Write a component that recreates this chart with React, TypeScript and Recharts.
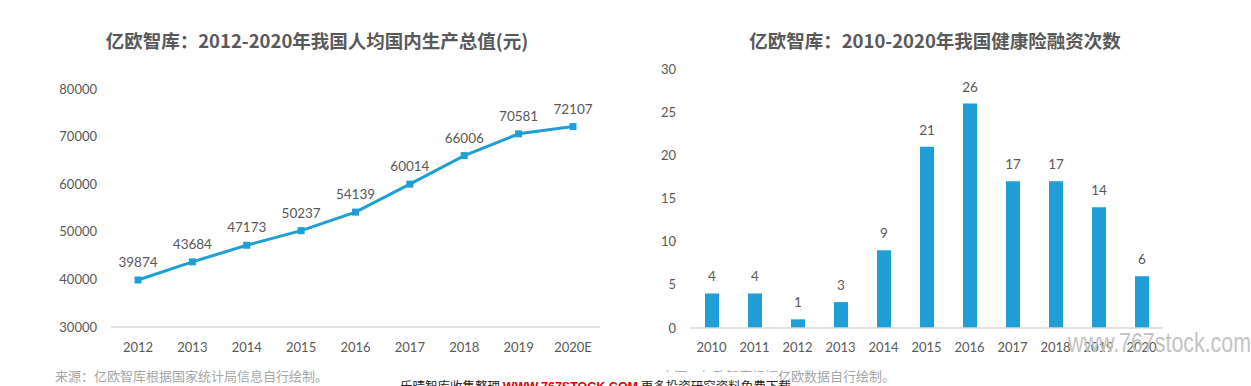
import React from "react";
import {
  LineChart,
  Line,
  BarChart,
  Bar,
  XAxis,
  YAxis,
  LabelList,
} from "recharts";

// 人均GDP (元)
const gdpYears = ["2012", "2013", "2014", "2015", "2016", "2017", "2018", "2019", "2020E"];
const gdpValues = [39874, 43684, 47173, 50237, 54139, 60014, 66006, 70581, 72107];
const gdpTicks = [30000, 40000, 50000, 60000, 70000, 80000];

// 健康险融资次数
const fundYears = ["2010", "2011", "2012", "2013", "2014", "2015", "2016", "2017", "2018", "2019", "2020"];
const fundCounts = [4, 4, 1, 3, 9, 21, 26, 17, 17, 14, 6];
const fundTicks = [0, 5, 10, 15, 20, 25, 30];

const BLUE = "#1f9fd6";
const TEXT = "#595959";
const AXIS = "#d9d9d9";
const NUM_FONT = "Lato, 'Noto Sans CJK SC', sans-serif";
const CJK_FONT = "'Noto Sans CJK SC', sans-serif";

const gdpData = gdpYears.map((year, i) => ({ year, value: gdpValues[i] }));
const fundData = fundYears.map((year, i) => ({ year, count: fundCounts[i] }));

const tickStyle = { fill: TEXT, fontSize: 13, fontFamily: NUM_FONT };

const SquareDot = (props: any) => {
  const { cx, cy, index } = props;
  if (cx == null || cy == null) return <g key={index} />;
  return <rect key={index} x={cx - 3.5} y={cy - 3.5} width={7} height={7} fill={BLUE} />;
};

const Title = ({ text, center }: { text: string; center: number }) => (
  <div
    style={{
      position: "absolute",
      left: center - 300,
      width: 600,
      top: 30,
      textAlign: "center",
      fontFamily: CJK_FONT,
      fontWeight: 700,
      fontSize: 18.5,
      lineHeight: "20px",
      color: TEXT,
      whiteSpace: "nowrap",
    }}
  >
    {text}
  </div>
);

export default function App() {
  return (
    <div
      style={{
        position: "absolute",
        left: 0,
        top: 0,
        width: 1251,
        height: 386,
        background: "#fff",
        overflow: "hidden",
      }}
    >
      <Title text="亿欧智库：2012-2020年我国人均国内生产总值(元)" center={317} />
      <Title text="亿欧智库：2010-2020年我国健康险融资次数" center={935} />

      <div style={{ position: "absolute", left: 0, top: 0 }}>
        <LineChart
          width={620}
          height={386}
          data={gdpData}
          margin={{ top: 89, right: 20, bottom: 29, left: 51 }}
        >
          <XAxis
            dataKey="year"
            height={30}
            padding={{ left: 27, right: 27 }}
            tickLine={false}
            tickSize={0}
            tickMargin={16}
            axisLine={{ stroke: AXIS, strokeWidth: 1.5 }}
            tick={tickStyle}
            interval={0}
          />
          <YAxis
            width={60}
            domain={[30000, 80000]}
            ticks={gdpTicks}
            axisLine={false}
            tickLine={false}
            tickSize={0}
            tickMargin={14}
            tick={tickStyle}
          />
          <Line
            type="linear"
            dataKey="value"
            stroke={BLUE}
            strokeWidth={3}
            dot={<SquareDot />}
            activeDot={false}
            isAnimationActive={false}
          >
            <LabelList
              dataKey="value"
              position="top"
              offset={13}
              style={{ fill: TEXT, fontSize: 13.5, fontFamily: NUM_FONT }}
            />
          </Line>
        </LineChart>
      </div>

      <div style={{ position: "absolute", left: 630, top: 0 }}>
        <BarChart
          width={621}
          height={386}
          data={fundData}
          margin={{ top: 69, right: 88, bottom: 28, left: 0 }}
        >
          <XAxis
            dataKey="year"
            height={30}
            tickLine={false}
            tickSize={0}
            tickMargin={15}
            axisLine={{ stroke: AXIS, strokeWidth: 1.5 }}
            tick={tickStyle}
            interval={0}
          />
          <YAxis
            width={60}
            domain={[0, 30]}
            ticks={fundTicks}
            axisLine={false}
            tickLine={false}
            tickSize={0}
            tickMargin={14}
            tick={tickStyle}
          />
          <Bar dataKey="count" fill={BLUE} barSize={14} isAnimationActive={false}>
            <LabelList
              dataKey="count"
              position="top"
              offset={12}
              style={{ fill: TEXT, fontSize: 13.5, fontFamily: NUM_FONT }}
            />
          </Bar>
        </BarChart>
      </div>

      {/* 来源 */}
      <div
        style={{
          position: "absolute",
          left: 55,
          top: 368,
          fontFamily: CJK_FONT,
          fontSize: 13,
          lineHeight: "16px",
          color: "#a6a6a6",
          whiteSpace: "nowrap",
        }}
      >
        来源：亿欧智库根据国家统计局信息自行绘制。
      </div>
      <div
        style={{
          position: "absolute",
          left: 661,
          top: 368,
          fontFamily: CJK_FONT,
          fontSize: 13,
          lineHeight: "16px",
          color: "#a6a6a6",
          whiteSpace: "nowrap",
        }}
      >
        来源：亿欧智库根据亿欧数据自行绘制。
      </div>

      {/* 水印 */}
      <div
        style={{
          position: "absolute",
          left: 396,
          top: 372,
          width: 381,
          height: 20,
          background: "#fff",
        }}
      />
      <div
        style={{
          position: "absolute",
          left: 400,
          top: 379,
          fontFamily: CJK_FONT,
          fontSize: 12.5,
          lineHeight: "14px",
          color: "#222",
          whiteSpace: "nowrap",
        }}
      >
        乐晴智库收集整理{" "}
        <span style={{ color: "#e00000", fontWeight: 700, fontFamily: "Arial, 'Liberation Sans', sans-serif" }}>
          WWW.767STOCK.COM
        </span>{" "}
        更多投资研究资料免费下载
      </div>
      <svg
        width={1251}
        height={386}
        style={{ position: "absolute", left: 0, top: 0, pointerEvents: "none" }}
      >
        <text
          x={1068}
          y={352}
          fontSize={28}
          fontFamily="'Liberation Sans', Arial, sans-serif"
          fill="#c4c4c4"
          textLength={183}
          lengthAdjust="spacingAndGlyphs"
        >
          www.767stock.com
        </text>
      </svg>
    </div>
  );
}
